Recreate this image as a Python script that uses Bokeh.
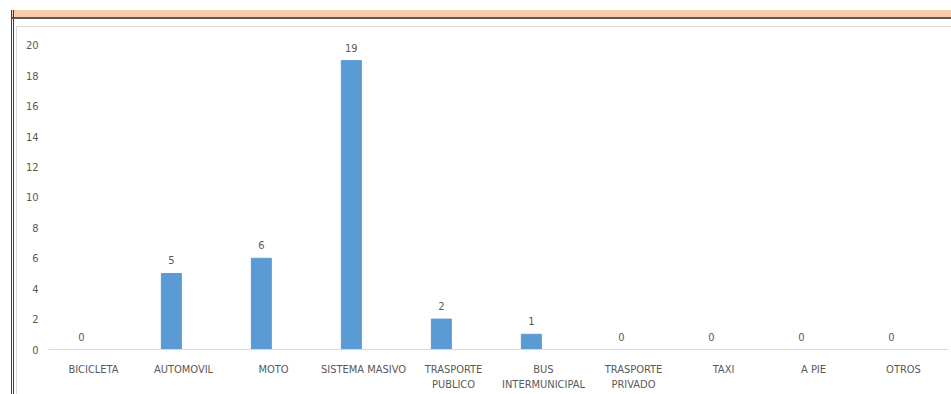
from bokeh.plotting import figure
from bokeh.models import ColumnDataSource, FactorRange, Range1d, FixedTicker, Div
from bokeh.layouts import column, row
from bokeh.transform import dodge
from bokeh.core.properties import value
from bokeh.embed import file_html
from bokeh.resources import INLINE

categories = ["BICICLETA", "AUTOMOVIL", "MOTO", "SISTEMA MASIVO", "TRASPORTE\nPUBLICO",
              "BUS\nINTERMUNICIPAL", "TRASPORTE\nPRIVADO", "TAXI", "A PIE", "OTROS"]
counts = [0, 5, 6, 19, 2, 1, 0, 0, 0, 0]
y_ticks = [0, 2, 4, 6, 8, 10, 12, 14, 16, 18, 20]

FONT = "Liberation Sans Narrow, DejaVu Sans Condensed, sans-serif"
TXT = "#595959"

src = ColumnDataSource(dict(cat=categories, n=counts, lbl=[str(v) for v in counts]))

p = figure(width=934, height=367, x_range=FactorRange(*categories, range_padding=0),
           y_range=Range1d(0, 20.98), output_backend="svg", toolbar_location=None,
           min_border_left=31, min_border_right=3, min_border_top=3, min_border_bottom=44)
p.background_fill_color = "white"
p.border_fill_color = "white"
p.outline_line_color = None
p.grid.visible = False

p.vbar(x=dodge("cat", -0.135, range=p.x_range), top="n", width=0.222, source=src,
       fill_color="#5B9BD5", line_color="#5B9BD5")
p.text(x=dodge("cat", -0.135, range=p.x_range), y="n", text="lbl", source=src,
       text_align="center", text_baseline="middle", y_offset=-13,
       text_font=value(FONT), text_font_size="11px", text_color=TXT)

p.yaxis.ticker = FixedTicker(ticks=y_ticks)
p.yaxis.axis_line_color = None
p.yaxis.major_tick_line_color = None
p.yaxis.minor_tick_line_color = None
p.yaxis.major_tick_out = 0
p.yaxis.minor_tick_out = 0
p.yaxis.major_label_standoff = 10
p.yaxis.major_label_text_font = FONT
p.yaxis.major_label_text_font_size = "11px"
p.yaxis.major_label_text_color = TXT

p.xaxis.axis_line_color = "#D9D9D9"
p.xaxis.axis_line_width = 1
p.xaxis.major_tick_line_color = None
p.xaxis.minor_tick_line_color = None
p.xaxis.major_label_standoff = 7
p.xaxis.major_label_text_font = FONT
p.xaxis.major_label_text_font_size = "11px"
p.xaxis.major_label_text_color = TXT

# decorative sheet frame: peach band, dark rules, light chart-area border
top_html = (
    '<div style="position:relative;width:951px;height:27px;background:white;overflow:hidden;">'
    '<div style="position:absolute;left:11px;top:10px;width:940px;height:7px;background:#F8CBAD;"></div>'
    '<div style="position:absolute;left:11px;top:17px;width:940px;height:2px;background:#595959;"></div>'
    '<div style="position:absolute;left:11px;top:10px;width:1px;height:17px;background:#404040;"></div>'
    '<div style="position:absolute;left:13px;top:10px;width:1px;height:17px;background:#404040;"></div>'
    '<div style="position:absolute;left:16px;top:26px;width:935px;height:1px;background:#D9D9D9;"></div>'
    '</div>'
)
left_html = (
    '<div style="position:relative;width:17px;height:367px;background:white;overflow:hidden;">'
    '<div style="position:absolute;left:11px;top:0px;width:1px;height:367px;background:#404040;"></div>'
    '<div style="position:absolute;left:13px;top:0px;width:1px;height:367px;background:#404040;"></div>'
    '<div style="position:absolute;left:16px;top:0px;width:1px;height:367px;background:#D9D9D9;"></div>'
    '</div>'
)
top_div = Div(text=top_html, width=951, height=27, margin=0)
left_div = Div(text=left_html, width=17, height=367, margin=0)
p.margin = 0

layout = column(top_div, row(left_div, p, spacing=0), spacing=0)

open("out.html", "w").write(file_html(layout, INLINE))
